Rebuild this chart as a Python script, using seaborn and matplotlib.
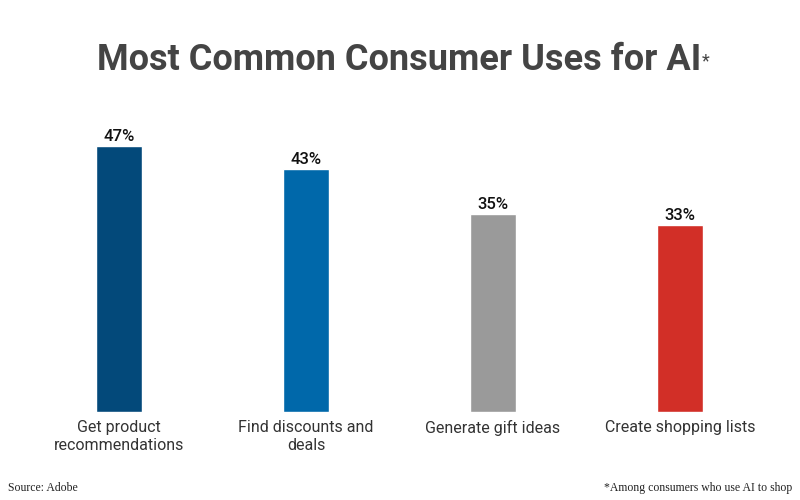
import pandas as pd
import matplotlib.pyplot as plt
import seaborn as sns

USES = ['Get product\nrecommendations', 'Find discounts and\ndeals',
        'Generate gift ideas', 'Create shopping lists']
SHARES = [47, 43, 35, 33]
COLOURS = ['#03497A', '#0068AA', '#9A9A9A', '#D22F27']

df = pd.DataFrame({'use': USES, 'share': SHARES})

sns.set_theme(style='white')
plt.rcParams['font.family'] = ['Roboto', 'DejaVu Sans']

fig = plt.figure(figsize=(8, 5), dpi=100)
ax = fig.add_axes([25.5 / 800, 88 / 500, 748 / 800, 292 / 500])

sns.barplot(data=df, x='use', y='share', hue='use', palette=COLOURS,
            width=0.246, legend=False, saturation=1, ax=ax)

for i, v in enumerate(SHARES):
    ax.text(i, v + 0.35, f'{v}%', ha='center', va='bottom',
            fontsize=12, fontweight='medium', color='#111111')

ax.set_xlim(-0.5, 3.5)
ax.set_ylim(0, 51.6)
ax.set_xlabel('')
ax.set_ylabel('')
ax.set_yticks([])
ax.tick_params(axis='x', length=0, pad=6, labelsize=11.5, labelcolor='#333333')
sns.despine(ax=ax, left=True, bottom=True)

# title, with a small asterisk right after it
title = fig.text(97 / 800, 1 - 70 / 500, 'Most Common Consumer Uses for AI',
                 ha='left', va='baseline', fontsize=26, fontweight='bold',
                 color='#444444')
fig.canvas.draw()
bb = title.get_window_extent()
fig.text(bb.x1 / 800 + 0.001, 1 - 66 / 500, '*', ha='left', va='baseline',
         fontsize=13, color='#444444')

fig.text(8 / 800, 12 / 500, 'Source: Adobe', ha='left', va='center',
         fontsize=8.5, family='Liberation Serif', color='#222222')
fig.text(792 / 800, 12 / 500, '*Among consumers who use AI to shop', ha='right',
         va='center', fontsize=8.5, family='Liberation Serif', color='#222222')

fig.savefig('out.png', dpi=100, facecolor='white')
